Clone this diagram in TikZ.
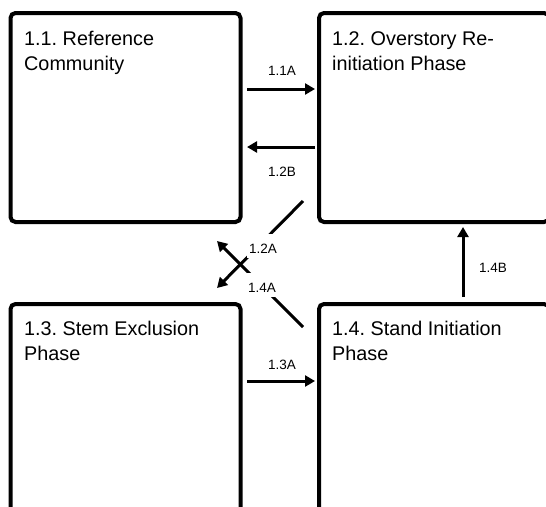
\documentclass[tikz,border=0pt]{standalone}
\usepackage{fontspec}
\setmainfont{Liberation Sans}
\usetikzlibrary{arrows.meta}
\frenchspacing
\begin{document}
\begin{tikzpicture}[x=1pt,y=-1pt,
  box/.style={draw, line width=4pt, rounded corners=5pt, minimum width=230pt, minimum height=209pt, inner sep=0pt},
  title/.style={anchor=base west, align=left, inner sep=0pt, font=\fontsize{19.8}{25}\selectfont},
  arr/.style={line width=3pt, -{Triangle[length=10pt,width=11pt]}},
  lab/.style={fill=white, font=\fontsize{13.5}{16}\selectfont, text height=19pt, text depth=5pt, inner xsep=2pt, inner ysep=0pt, anchor=base}
]
\useasboundingbox (0,0) rectangle (546,506);
\clip (0,0) rectangle (546,506);
% boxes
\node[box] (b11) at (125.5,117.5) {};
\node[box] (b12) at (434,117.5) {};
\node[box] (b13) at (125.5,408.5) {};
\node[box] (b14) at (434,408.5) {};
% titles (anchor is the baseline of the last line)
\node[title] (t11) at (24,70) {1.1. Reference\\Community};
\node[title] (t12) at (332,70) {1.2. Overstory Re-\\initiation Phase};
\node[title] (t13) at (24,360) {1.3. Stem Exclusion\\Phase};
\node[title] (t14) at (332,360) {1.4. Stand Initiation\\Phase};
% horizontal / vertical transitions
\draw[arr, shorten <=4.5pt, shorten >=2pt] (b11.east |- 0,89) -- (b12.west |- 0,89);
\draw[arr, shorten <=2pt, shorten >=4.5pt] (b12.west |- 0,147) -- (b11.east |- 0,147);
\draw[arr, shorten <=4.5pt, shorten >=2pt] (b13.east |- 0,381) -- (b14.west |- 0,381);
\draw[arr, shorten <=5pt, shorten >=3pt] (b14.north -| 463,0) -- (b12.south -| 463,0);
% diagonal transitions
\coordinate (s12a) at (303,201);
\coordinate (e12a) at (217,288);
\coordinate (s14a) at (303,327);
\coordinate (e14a) at (217,241);
\draw[arr] (s12a) -- (e12a);
\draw[arr] (s14a) -- (e14a);
% labels
\node[lab] (l11a) at (282,75) {1.1A};
\node[lab] (l12b) at (282,176) {1.2B};
\node[lab] (l13a) at (282,369) {1.3A};
\node[lab] (l12a) at (263,253) {1.2A};
\node[lab] (l14a) at (262,292) {1.4A};
\node[lab] (l14b) at (493,272) {1.4B};
\end{tikzpicture}
\end{document}
